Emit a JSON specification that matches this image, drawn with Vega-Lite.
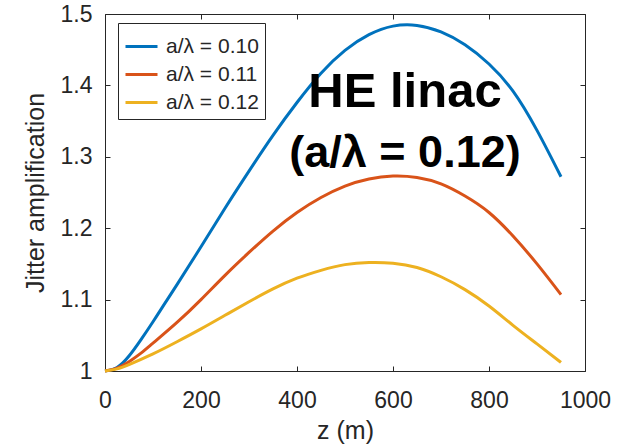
{
  "$schema": "https://vega.github.io/schema/vega-lite/v6.json",
  "width": 480,
  "height": 357,
  "autosize": {"type": "none"},
  "padding": {"left": 105, "top": 14, "right": 43, "bottom": 73},
  "background": "white",
  "config": {
    "view": {"stroke": null},
    "font": "Liberation Sans",
    "axis": {
      "grid": false,
      "domainColor": "#262626",
      "domainWidth": 1,
      "tickColor": "#262626",
      "tickSize": -5,
      "labelFlush": false,
      "labelColor": "#262626",
      "labelFont": "Liberation Sans",
      "labelFontSize": 23,
      "titleFont": "Liberation Sans",
      "titleFontSize": 25,
      "titleFontWeight": "normal",
      "titleColor": "#262626"
    }
  },
  "layer": [
    {
      "data": {
        "values": [
          {"z": 0, "amp": 1.000, "series": "a/λ = 0.10"},
          {"z": 25, "amp": 1.005, "series": "a/λ = 0.10"},
          {"z": 50, "amp": 1.021, "series": "a/λ = 0.10"},
          {"z": 75, "amp": 1.044, "series": "a/λ = 0.10"},
          {"z": 100, "amp": 1.069, "series": "a/λ = 0.10"},
          {"z": 125, "amp": 1.095, "series": "a/λ = 0.10"},
          {"z": 150, "amp": 1.121, "series": "a/λ = 0.10"},
          {"z": 200, "amp": 1.174, "series": "a/λ = 0.10"},
          {"z": 250, "amp": 1.228, "series": "a/λ = 0.10"},
          {"z": 300, "amp": 1.280, "series": "a/λ = 0.10"},
          {"z": 350, "amp": 1.330, "series": "a/λ = 0.10"},
          {"z": 400, "amp": 1.376, "series": "a/λ = 0.10"},
          {"z": 450, "amp": 1.417, "series": "a/λ = 0.10"},
          {"z": 500, "amp": 1.449, "series": "a/λ = 0.10"},
          {"z": 550, "amp": 1.471, "series": "a/λ = 0.10"},
          {"z": 600, "amp": 1.483, "series": "a/λ = 0.10"},
          {"z": 650, "amp": 1.484, "series": "a/λ = 0.10"},
          {"z": 700, "amp": 1.475, "series": "a/λ = 0.10"},
          {"z": 750, "amp": 1.457, "series": "a/λ = 0.10"},
          {"z": 800, "amp": 1.430, "series": "a/λ = 0.10"},
          {"z": 850, "amp": 1.392, "series": "a/λ = 0.10"},
          {"z": 900, "amp": 1.337, "series": "a/λ = 0.10"},
          {"z": 950, "amp": 1.272, "series": "a/λ = 0.10"},
          {"z": 0, "amp": 1.000, "series": "a/λ = 0.11"},
          {"z": 25, "amp": 1.004, "series": "a/λ = 0.11"},
          {"z": 50, "amp": 1.013, "series": "a/λ = 0.11"},
          {"z": 75, "amp": 1.025, "series": "a/λ = 0.11"},
          {"z": 100, "amp": 1.039, "series": "a/λ = 0.11"},
          {"z": 150, "amp": 1.068, "series": "a/λ = 0.11"},
          {"z": 200, "amp": 1.100, "series": "a/λ = 0.11"},
          {"z": 250, "amp": 1.134, "series": "a/λ = 0.11"},
          {"z": 300, "amp": 1.166, "series": "a/λ = 0.11"},
          {"z": 350, "amp": 1.196, "series": "a/λ = 0.11"},
          {"z": 400, "amp": 1.222, "series": "a/λ = 0.11"},
          {"z": 450, "amp": 1.243, "series": "a/λ = 0.11"},
          {"z": 500, "amp": 1.259, "series": "a/λ = 0.11"},
          {"z": 550, "amp": 1.269, "series": "a/λ = 0.11"},
          {"z": 600, "amp": 1.273, "series": "a/λ = 0.11"},
          {"z": 650, "amp": 1.271, "series": "a/λ = 0.11"},
          {"z": 700, "amp": 1.262, "series": "a/λ = 0.11"},
          {"z": 750, "amp": 1.245, "series": "a/λ = 0.11"},
          {"z": 800, "amp": 1.222, "series": "a/λ = 0.11"},
          {"z": 850, "amp": 1.189, "series": "a/λ = 0.11"},
          {"z": 900, "amp": 1.150, "series": "a/λ = 0.11"},
          {"z": 950, "amp": 1.107, "series": "a/λ = 0.11"},
          {"z": 0, "amp": 1.000, "series": "a/λ = 0.12"},
          {"z": 25, "amp": 1.003, "series": "a/λ = 0.12"},
          {"z": 50, "amp": 1.009, "series": "a/λ = 0.12"},
          {"z": 100, "amp": 1.024, "series": "a/λ = 0.12"},
          {"z": 150, "amp": 1.041, "series": "a/λ = 0.12"},
          {"z": 200, "amp": 1.059, "series": "a/λ = 0.12"},
          {"z": 250, "amp": 1.078, "series": "a/λ = 0.12"},
          {"z": 300, "amp": 1.097, "series": "a/λ = 0.12"},
          {"z": 350, "amp": 1.115, "series": "a/λ = 0.12"},
          {"z": 400, "amp": 1.130, "series": "a/λ = 0.12"},
          {"z": 450, "amp": 1.141, "series": "a/λ = 0.12"},
          {"z": 500, "amp": 1.149, "series": "a/λ = 0.12"},
          {"z": 550, "amp": 1.152, "series": "a/λ = 0.12"},
          {"z": 600, "amp": 1.151, "series": "a/λ = 0.12"},
          {"z": 650, "amp": 1.145, "series": "a/λ = 0.12"},
          {"z": 700, "amp": 1.132, "series": "a/λ = 0.12"},
          {"z": 750, "amp": 1.114, "series": "a/λ = 0.12"},
          {"z": 800, "amp": 1.091, "series": "a/λ = 0.12"},
          {"z": 850, "amp": 1.064, "series": "a/λ = 0.12"},
          {"z": 900, "amp": 1.038, "series": "a/λ = 0.12"},
          {"z": 950, "amp": 1.012, "series": "a/λ = 0.12"}
        ]
      },
      "mark": {"type": "line", "strokeWidth": 3, "interpolate": "natural"},
      "encoding": {
        "x": {
          "field": "z", "type": "quantitative",
          "scale": {"domain": [0, 1000], "nice": false},
          "axis": {"orient": "bottom", "values": [0, 200, 400, 600, 800, 1000], "format": "d", "title": "z (m)", "labelPadding": 23, "titlePadding": 6}
        },
        "y": {
          "field": "amp", "type": "quantitative",
          "scale": {"domain": [1, 1.5], "nice": false, "zero": false},
          "axis": {"orient": "left", "values": [1, 1.1, 1.2, 1.3, 1.4, 1.5], "format": ".1~f", "title": "Jitter amplification", "labelPadding": 18, "titlePadding": 12}
        },
        "color": {
          "field": "series", "type": "nominal",
          "scale": {"domain": ["a/λ = 0.10", "a/λ = 0.11", "a/λ = 0.12"], "range": ["#0072BD", "#D95319", "#EDB120"]},
          "legend": {
            "title": null,
            "orient": "none",
            "legendX": 13,
            "legendY": 9,
            "symbolType": "stroke",
            "symbolSize": 1024,
            "symbolStrokeWidth": 3,
            "labelFont": "Liberation Sans",
            "labelFontSize": 21,
            "labelColor": "#262626",
            "labelOffset": 7,
            "rowPadding": -4.5,
            "padding": 6,
            "strokeColor": "#262626",
            "fillColor": "white"
          }
        }
      }
    },
    {
      "data": {"values": [{"z": 625, "amp": 1.3697, "label": "HE linac"}]},
      "mark": {"type": "text", "font": "Liberation Sans", "fontWeight": "bold", "fontSize": 49, "color": "black", "align": "center", "baseline": "alphabetic"},
      "encoding": {
        "x": {"field": "z", "type": "quantitative", "axis": {"orient": "top", "values": [0, 200, 400, 600, 800, 1000], "labels": false, "title": null}},
        "y": {"field": "amp", "type": "quantitative", "axis": {"orient": "right", "values": [1, 1.1, 1.2, 1.3, 1.4, 1.5], "labels": false, "title": null}},
        "text": {"field": "label"}
      }
    },
    {
      "data": {"values": [{"z": 625, "amp": 1.2857, "label": "(a/λ = 0.12)"}]},
      "mark": {"type": "text", "font": "Liberation Sans", "fontWeight": "bold", "fontSize": 45, "color": "black", "align": "center", "baseline": "alphabetic"},
      "encoding": {
        "x": {"field": "z", "type": "quantitative", "axis": null},
        "y": {"field": "amp", "type": "quantitative", "axis": null},
        "text": {"field": "label"}
      }
    }
  ]
}
